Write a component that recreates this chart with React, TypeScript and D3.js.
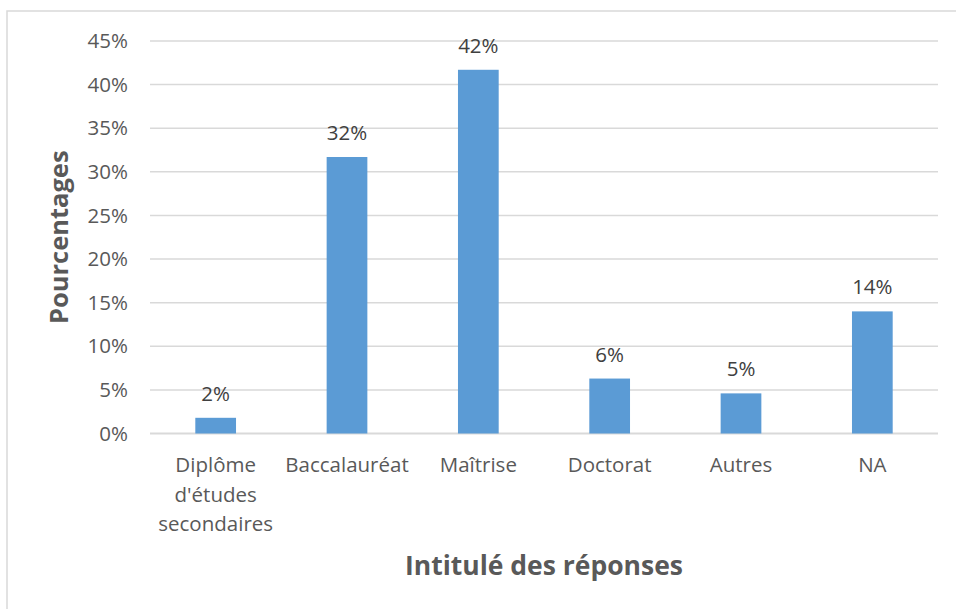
import React from "react";
import * as d3 from "d3";

const categories: string[][] = [
  ["Diplôme", "d'études", "secondaires"],
  ["Baccalauréat"],
  ["Maîtrise"],
  ["Doctorat"],
  ["Autres"],
  ["NA"],
];
const values: number[] = [1.8, 31.7, 41.7, 6.3, 4.6, 14.0];
const valueLabels: string[] = ["2%", "32%", "42%", "6%", "5%", "14%"];
const yTicks: number[] = [0, 5, 10, 15, 20, 25, 30, 35, 40, 45];
const yTitle = "Pourcentages";
const xTitle = "Intitulé des réponses";

const W = 956;
const H = 609;
const left = 150;
const right = 938;
const top = 41;
const bottom = 433.5;
const FONT = "'Open Sans', sans-serif";
const FS = 20.5;

export default function App() {
  const x = d3
    .scaleBand<number>()
    .domain(values.map((_, i) => i))
    .range([left, right])
    .paddingInner(0.69)
    .paddingOuter(0.345);
  const y = d3.scaleLinear().domain([0, 45]).range([bottom, top]);
  const step = (right - left) / categories.length;

  return (
    <svg
      width={W}
      height={H}
      style={{ position: "absolute", left: 0, top: 0, display: "block" }}
      fontFamily={FONT}
    >
      <rect x={0} y={0} width={W} height={H} fill="#fff" />
      <rect x={7} y={11} width={W} height={H} fill="#fff" stroke="#d9d9d9" strokeWidth={1.5} />
      {yTicks.map((t) => (
        <g key={t}>
          <line
            x1={left}
            x2={right}
            y1={y(t)}
            y2={y(t)}
            stroke="#d9d9d9"
            strokeWidth={t === 0 ? 2 : 1.5}
          />
          <text
            x={128}
            y={y(t)}
            dy="0.35em"
            textAnchor="end"
            fontSize={FS}
            fill="#595959"
          >
            {t}%
          </text>
        </g>
      ))}
      {values.map((v, i) => {
        const bx = x(i)!;
        const bw = x.bandwidth();
        return (
          <g key={i}>
            <rect x={bx} y={y(v)} width={bw} height={bottom - y(v)} fill="#5b9bd5" />
            <text
              x={bx + bw / 2}
              y={y(v) - 17}
              textAnchor="middle"
              fontSize={FS}
              fill="#404040"
            >
              {valueLabels[i]}
            </text>
          </g>
        );
      })}
      {categories.map((lines, i) => (
        <text
          key={i}
          x={left + step * (i + 0.5)}
          y={472}
          textAnchor="middle"
          fontSize={FS}
          fill="#595959"
        >
          {lines.map((l, j) => (
            <tspan key={j} x={left + step * (i + 0.5)} dy={j === 0 ? 0 : 29.5}>
              {l}
            </tspan>
          ))}
        </text>
      ))}
      <text
        transform={`translate(68,${(top + bottom) / 2}) rotate(-90)`}
        textAnchor="middle"
        fontSize={25.5}
        fontWeight="bold"
        fill="#595959"
      >
        {yTitle}
      </text>
      <text
        x={(left + right) / 2}
        y={575}
        textAnchor="middle"
        fontSize={26.5}
        fontWeight="bold"
        fill="#595959"
      >
        {xTitle}
      </text>
    </svg>
  );
}
